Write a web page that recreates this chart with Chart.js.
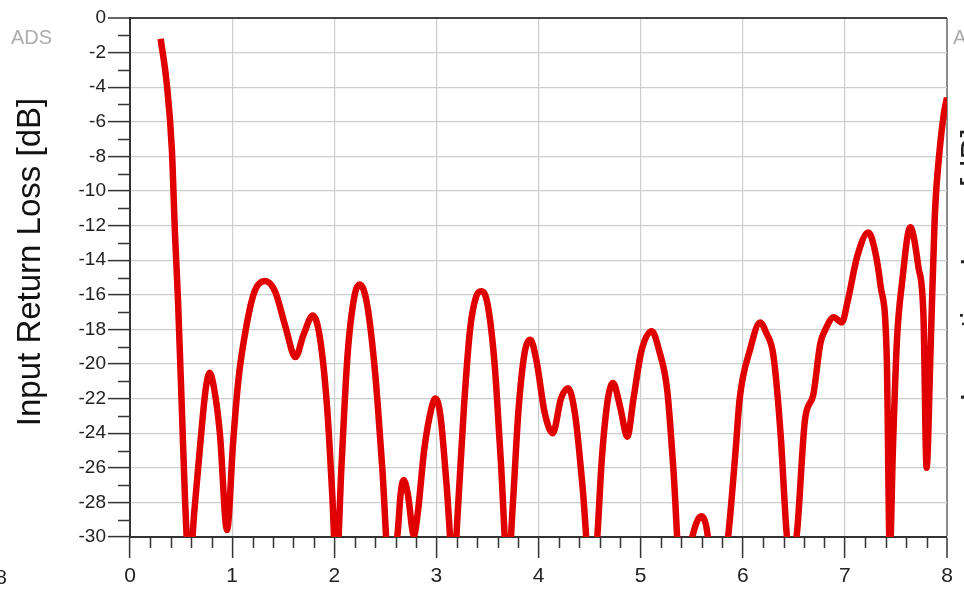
<!DOCTYPE html>
<html>
<head>
<meta charset="utf-8">
<script src="https://cdn.jsdelivr.net/npm/chart.js@4/dist/chart.umd.min.js"></script>
<style>
  html, body { margin: 0; padding: 0; background: #fff; }
  #wrap { width: 964px; height: 598px; position: relative; }
</style>
</head>
<body>
<div id="wrap"><canvas id="s11"></canvas></div>
<script>
// frequency in GHz and input return loss in dB
const freqGHz = [
  0.30, 0.36, 0.41, 0.44, 0.47, 0.51, 0.54, 0.58, 0.63, 0.69, 0.74, 0.78, 0.82, 0.88, 0.95,
  1.01, 1.06, 1.14, 1.22, 1.32, 1.42, 1.52, 1.62, 1.70, 1.79, 1.86, 1.93, 1.98,
  2.02, 2.07, 2.13, 2.20, 2.25, 2.32, 2.40, 2.47, 2.54, 2.62, 2.65, 2.68, 2.72, 2.78, 2.82, 2.88, 2.95, 2.99,
  3.04, 3.10, 3.17, 3.21, 3.27, 3.33, 3.39, 3.44, 3.50, 3.57, 3.63, 3.70, 3.75, 3.80, 3.86, 3.92, 3.98,
  4.06, 4.14, 4.22, 4.29, 4.36, 4.43, 4.52, 4.57, 4.62, 4.68, 4.73, 4.80, 4.87, 4.93,
  5.01, 5.11, 5.18, 5.26, 5.32, 5.40, 5.51, 5.56, 5.60, 5.64, 5.67, 5.76, 5.86, 5.93, 5.97,
  6.07, 6.17, 6.23, 6.30, 6.37, 6.43, 6.47, 6.53, 6.61, 6.69, 6.76, 6.81, 6.89, 6.97,
  7.03, 7.12, 7.23, 7.30, 7.35, 7.41, 7.44, 7.47, 7.51, 7.56, 7.64, 7.72, 7.77, 7.80, 7.84, 7.88, 7.93, 7.97, 8.00
];
const returnLossDb = [
  -1.2, -3.8, -7.6, -12.4, -16.3, -23.0, -28.0, -32.0, -28.5, -24.5, -21.5, -20.5, -21.3, -24.0, -29.6,
  -24.5, -21.0, -17.8, -15.8, -15.2, -15.8, -17.8, -19.6, -18.3, -17.2, -18.5, -22.5, -27.5,
  -32.0, -26.0, -19.5, -16.0, -15.4, -16.5, -20.5, -26.0, -32.0, -29.8, -27.5, -26.7, -27.5, -29.9, -28.5, -25.0, -22.6, -22.0,
  -23.0, -27.0, -32.0, -28.5, -22.5, -18.0, -16.1, -15.8, -16.5, -20.0, -25.5, -32.0, -28.0, -23.0, -19.5, -18.6, -19.8,
  -22.8, -24.0, -22.0, -21.4, -23.0, -27.0, -33.0, -30.5, -25.5, -22.0, -21.1, -22.5, -24.2, -22.0,
  -19.2, -18.1, -19.2, -21.5, -26.0, -33.0, -29.9, -29.0, -28.8, -29.3, -30.5, -34.0, -29.8, -25.0, -22.0,
  -19.2, -17.6, -18.2, -19.5, -24.0, -29.8, -31.5, -29.8, -23.2, -21.8, -18.8, -18.0, -17.3, -17.6,
  -16.3, -13.8, -12.4, -13.6, -15.5, -19.6, -31.0, -25.0, -18.6, -15.3, -12.1, -14.4, -17.3, -26.0, -19.0, -11.5, -7.5, -5.5, -4.6
];
const yLabel = "Input Return Loss [dB]";
const xTicks = [0, 1, 2, 3, 4, 5, 6, 7, 8];
const yTicks = [0, -2, -4, -6, -8, -10, -12, -14, -16, -18, -20, -22, -24, -26, -28, -30];

const FONT = "'Liberation Sans', Arial, sans-serif";

// minor ticks, axis title and the bits of neighbouring plots that show at the edges
const extras = {
  id: "extras",
  afterDraw(chart) {
    const ctx = chart.ctx;
    const xs = chart.scales.x, ys = chart.scales.y;
    const area = chart.chartArea;
    ctx.save();
    ctx.strokeStyle = "#333";
    ctx.lineWidth = 1.5;
    ctx.beginPath();
    for (let v = -29; v < 0; v += 2) {
      const py = Math.round(ys.getPixelForValue(v)) + 0.5;
      ctx.moveTo(area.left - 12, py);
      ctx.lineTo(area.left, py);
    }
    for (let i = 0; i < 40; i++) {
      if (i % 5 === 0) continue;
      const px = Math.round(xs.getPixelForValue(i * 0.2)) + 0.5;
      ctx.moveTo(px, area.bottom);
      ctx.lineTo(px, area.bottom + 11);
    }
    ctx.stroke();

    ctx.fillStyle = "#adadad";
    ctx.font = "20px " + FONT;
    ctx.textBaseline = "middle";
    ctx.textAlign = "left";
    ctx.fillText("ADS", 11, 38);
    ctx.fillText("A", 953, 38);

    ctx.fillStyle = "#222";
    ctx.font = "21px " + FONT;
    ctx.textAlign = "center";
    ctx.fillText("8", 1, 578);

    ctx.save();
    ctx.translate(31, 262);
    ctx.rotate(-Math.PI / 2);
    ctx.fillStyle = "#111";
    ctx.font = "33px " + FONT;
    ctx.fillText(yLabel, 0, 0);
    ctx.restore();

    ctx.translate(984, 265);
    ctx.rotate(-Math.PI / 2);
    ctx.font = "33px " + FONT;
    ctx.textBaseline = "alphabetic";
    ctx.fillText("Insertion Loss [dB]", 0, 0);
    ctx.restore();
  }
};

new Chart(document.getElementById("s11"), {
  type: "line",
  data: {
    datasets: [{
      label: yLabel,
      data: freqGHz.map((f, i) => ({ x: f, y: returnLossDb[i] })),
      borderColor: "#e00000",
      borderWidth: 6.5,
      pointRadius: 0,
      cubicInterpolationMode: "monotone",
      clip: 0
    }]
  },
  options: {
    responsive: true,
    maintainAspectRatio: false,
    animation: false,
    layout: { padding: { left: 0, top: 18, right: 17, bottom: 0 } },
    plugins: { legend: { display: false }, tooltip: { enabled: false } },
    scales: {
      x: {
        type: "linear",
        min: 0,
        max: 8,
        afterBuildTicks: (s) => { s.ticks = xTicks.map(v => ({ value: v })); },
        afterFit: (s) => { s.height = 61; },
        ticks: { color: "#222", font: { family: FONT, size: 21 }, padding: 6, maxRotation: 0 },
        grid: {
          color: (c) => c.tick && c.tick.value === 8 ? "#8a8a8a" : "#cdcdcd",
          lineWidth: (c) => c.tick && c.tick.value === 8 ? 2 : 1.2,
          tickColor: "#333",
          tickLength: 21,
          tickWidth: 1.5
        },
        border: { display: true, color: "#333", width: 2 }
      },
      y: {
        min: -30,
        max: 0,
        afterBuildTicks: (s) => { s.ticks = yTicks.map(v => ({ value: v })); },
        afterFit: (s) => { s.width = 130; },
        ticks: { color: "#222", font: { family: FONT, size: 19 }, padding: 2 },
        grid: {
          color: (c) => c.tick && c.tick.value === 0 ? "#444" : "#cdcdcd",
          lineWidth: (c) => c.tick && c.tick.value === 0 ? 2 : 1.2,
          tickColor: "#333",
          tickLength: 22,
          tickWidth: 1.5
        },
        border: { display: true, color: "#333", width: 2 },
        title: { display: false, text: yLabel }
      }
    }
  },
  plugins: [extras]
});
</script>
</body>
</html>
